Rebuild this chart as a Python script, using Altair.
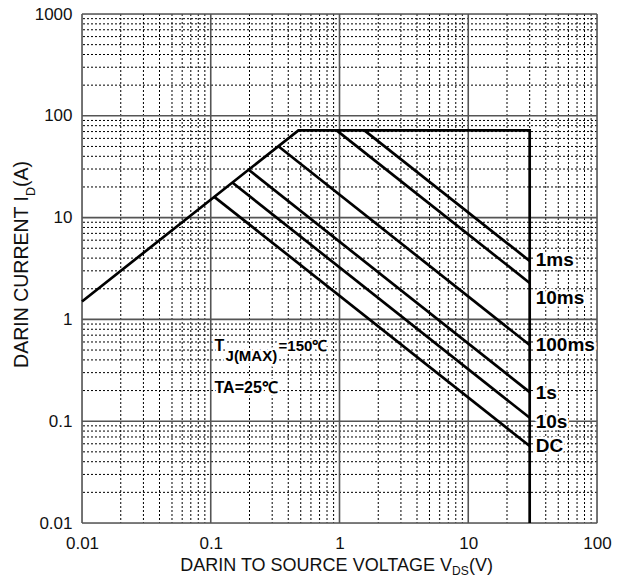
import altair as alt
import pandas as pd

# ---------------- data ----------------
# outer SOA boundary (R_DS(on) limit, current limit, voltage limit)
bound_x = [0.01, 0.48, 30, 30]
bound_y = [1.5, 72, 72, 0.01]

# pulse-width lines (start on boundary, end at V_DS = 30 V)
series = ["1ms", "10ms", "100ms", "1s", "10s", "DC"]
start_x = [1.56, 0.95, 0.335, 0.197, 0.147, 0.1065]
start_y = [72, 72, 50.2, 29.5, 22.1, 16.0]
end_x = [30, 30, 30, 30, 30, 30]
end_y = [3.75, 2.28, 0.56, 0.193, 0.108, 0.057]

# label anchor values (y) beside the 30 V line
label_y = [3.8, 1.62, 0.56, 0.19, 0.098, 0.057]

x_ticks = [0.01, 0.1, 1, 10, 100]
y_ticks = [0.01, 0.1, 1, 10, 100, 1000]

FONT = "Liberation Sans"
W, H = 515, 509

# ---------------- tables ----------------
minor_x = [d * m for d in x_ticks[:-1] for m in range(2, 10)]
minor_y = [d * m for d in y_ticks[:-1] for m in range(2, 10)]

df_bound = pd.DataFrame({"x": bound_x, "y": bound_y, "o": list(range(len(bound_x)))})
rows = []
for s, x0, y0, x1, y1 in zip(series, start_x, start_y, end_x, end_y):
    rows.append({"s": s, "x": x0, "y": y0, "o": 0})
    rows.append({"s": s, "x": x1, "y": y1, "o": 1})
df_lines = pd.DataFrame(rows)
df_labels = pd.DataFrame({"s": series, "x": end_x, "y": label_y})

xs = alt.Scale(type="log", domain=[0.01, 100], nice=False)
ys = alt.Scale(type="log", domain=[0.01, 1000], nice=False)

xaxis = alt.Axis(values=x_ticks, format="~g", grid=False, ticks=False, domain=False,
                 labelFont=FONT, labelFontSize=17, labelColor="#111", labelPadding=12,
                 title=None, labelFlush=False)
yaxis = alt.Axis(values=y_ticks, format="~g", grid=False, ticks=False, domain=False,
                 labelFont=FONT, labelFontSize=17, labelColor="#111", labelPadding=10,
                 title=None, labelFlush=False)

gx_minor = alt.Chart(pd.DataFrame({"v": minor_x})).mark_rule(
    color="#000", strokeWidth=1, strokeDash=[2, 2]).encode(x=alt.X("v:Q", scale=xs, axis=xaxis))
gy_minor = alt.Chart(pd.DataFrame({"v": minor_y})).mark_rule(
    color="#000", strokeWidth=1, strokeDash=[2, 2]).encode(y=alt.Y("v:Q", scale=ys, axis=yaxis))
gx_major = alt.Chart(pd.DataFrame({"v": x_ticks})).mark_rule(
    color="#555", strokeWidth=1.6).encode(x=alt.X("v:Q", scale=xs, axis=xaxis))
gy_major = alt.Chart(pd.DataFrame({"v": y_ticks})).mark_rule(
    color="#555", strokeWidth=1.6).encode(y=alt.Y("v:Q", scale=ys, axis=yaxis))

bound = alt.Chart(df_bound).mark_line(color="#000", strokeWidth=2.7).encode(
    x=alt.X("x:Q", scale=xs, axis=xaxis), y=alt.Y("y:Q", scale=ys, axis=yaxis), order="o:Q")
lines = alt.Chart(df_lines).mark_line(color="#000", strokeWidth=2.7).encode(
    x=alt.X("x:Q", scale=xs, axis=xaxis), y=alt.Y("y:Q", scale=ys, axis=yaxis),
    detail="s:N", order="o:Q")

lab_enc = dict(x=alt.X("x:Q", scale=xs, axis=xaxis), y=alt.Y("y:Q", scale=ys, axis=yaxis),
               text="s:N")
lab_halo = alt.Chart(df_labels).mark_text(
    font=FONT, fontSize=19, fontWeight="bold", align="left", baseline="middle", dx=6,
    color="white", stroke="white", strokeWidth=5, strokeJoin="round").encode(**lab_enc)
lab = alt.Chart(df_labels).mark_text(
    font=FONT, fontSize=19, fontWeight="bold", align="left", baseline="middle", dx=6,
    color="#000").encode(**lab_enc)

# annotations
ann_x = [0.107]
tj_y = [0.49]
ta_y = [0.189]


def ann(text, yv, size, dx=0, dy=0, halo=False):
    props = dict(font=FONT, fontSize=size, fontWeight="bold", align="left",
                 baseline="alphabetic", dx=dx, dy=dy, text=text)
    if halo:
        props.update(color="white", stroke="white", strokeWidth=5, strokeJoin="round")
    else:
        props.update(color="#000")
    return alt.Chart(pd.DataFrame({"x": ann_x, "y": yv})).mark_text(**props).encode(
        x=alt.X("x:Q", scale=xs, axis=xaxis), y=alt.Y("y:Q", scale=ys, axis=yaxis))


ann_layers = []
for halo in (True, False):
    ann_layers += [
        ann("T", tj_y, 16, 0, 0, halo),
        ann("J(MAX)", tj_y, 15, 11, 10, halo),
        ann("=150\u2103", tj_y, 15, 64, 0, halo),
        ann("TA=25\u2103", ta_y, 16, 0, 0, halo),
    ]

one = pd.DataFrame({"a": [0]})


def ptext(text, x, y, size, align, angle=0):
    props = dict(font=FONT, fontSize=size, align=align, baseline="alphabetic",
                 color="#111", text=text)
    if angle:
        props["angle"] = angle
    return alt.Chart(one).mark_text(**props).encode(x=alt.value(x), y=alt.value(y))


titles = [
    ptext("DARIN TO SOURCE VOLTAGE V", 370, 557, 18, "right"),
    ptext("DS", 370, 561, 12, "left"),
    ptext("(V)", 387, 557, 18, "left"),
    ptext("DARIN CURRENT I", -54, 182, 19.5, "right", 270),
    ptext("D", -47, 182, 12.5, "left", 270),
    ptext("(A)", -54, 173, 19.5, "left", 270),
]

chart = alt.layer(
    gx_minor, gy_minor, gx_major, gy_major, bound, lines, lab_halo, lab,
    *ann_layers, *titles
).properties(
    width=W, height=H,
    autosize=alt.AutoSizeParams(type="none"),
    padding={"left": 82, "top": 14, "right": 28, "bottom": 60},
).configure_view(stroke="#000", strokeWidth=1.6).configure(background="white")

chart.save("out.html", embed_options={"renderer": "svg", "actions": False})
